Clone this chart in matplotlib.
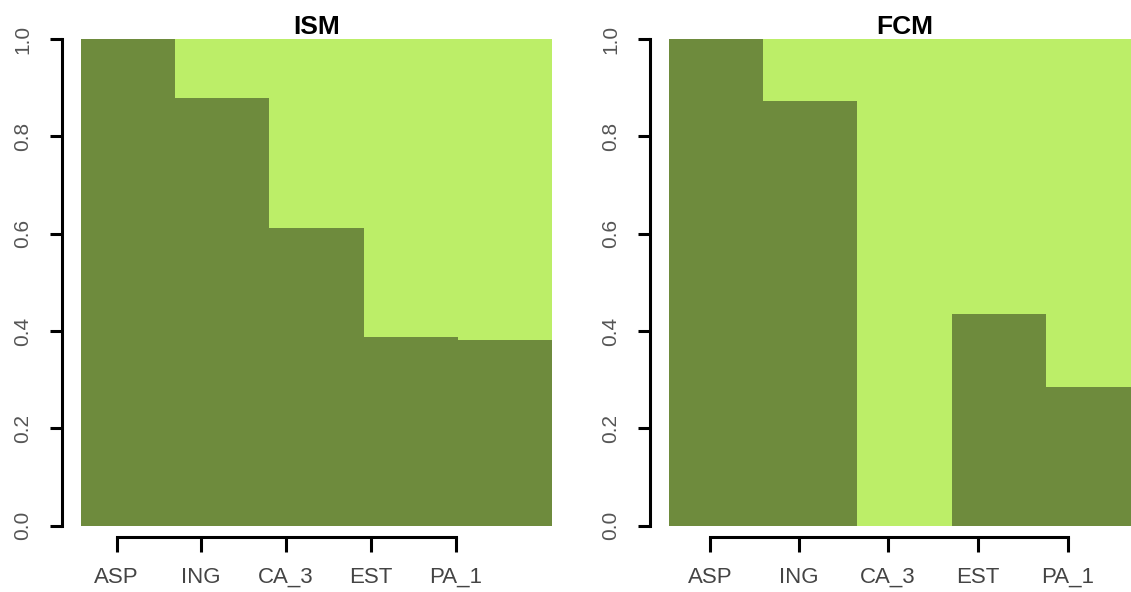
import numpy as np
import matplotlib.pyplot as plt

# share of each site assigned to the first group, rest goes to the second
sites = ['ASP', 'ING', 'CA_3', 'EST', 'PA_1']
ism = [1.0, 0.879, 0.612, 0.388, 0.382]
fcm = [1.0, 0.873, 0.0, 0.435, 0.284]

dark = '#6E8B3D'
light = '#BCEE68'

# where the category axis ticks sit (in bar units)
ism_ticks = [0.379, 1.274, 2.176, 3.079, 3.981]
fcm_ticks = [0.435, 1.380, 2.325, 3.280, 4.236]

W, H = 1131, 592
fig = plt.figure(figsize=(W / 100, H / 100), dpi=100)


def panel(x0, title, vals, ticks):
    ax = fig.add_axes([x0 / W, (H - 525.7) / H, 471 / W, 486.7 / H])
    vals = np.array(vals)
    x = np.arange(len(vals))
    ax.bar(x, vals, width=1.0, align='edge', color=dark, linewidth=0)
    ax.bar(x, 1 - vals, bottom=vals, width=1.0, align='edge', color=light, linewidth=0)
    ax.set_xlim(0, len(vals))
    ax.set_ylim(0, 1)

    for s in ['top', 'right']:
        ax.spines[s].set_visible(False)
    ax.spines['left'].set_position(('outward', 13.7))
    ax.spines['bottom'].set_position(('outward', 8.0))
    ax.spines['left'].set_bounds(0, 1)
    ax.spines['bottom'].set_bounds(ticks[0], ticks[-1])
    for s in ['left', 'bottom']:
        ax.spines[s].set_linewidth(2.2)

    ax.set_yticks(np.arange(0, 1.01, 0.2))
    ax.set_yticklabels(['%.1f' % v for v in np.arange(0, 1.01, 0.2)],
                       rotation=90, va='center', family='Liberation Sans',
                       fontsize=15, color='#555555')
    ax.set_xticks(ticks)
    ax.set_xticklabels(sites, family='Liberation Sans', fontsize=16,
                       color='#444444')
    ax.tick_params(axis='y', length=8.6, width=2.2, pad=13)
    ax.tick_params(axis='x', length=10.5, width=2.2, pad=11)
    ax.set_title(title, fontsize=19, fontweight='bold', family='Liberation Sans',
                 pad=2)
    return ax


panel(81, 'ISM', ism, ism_ticks)
panel(669, 'FCM', fcm, fcm_ticks)

fig.savefig('out.png', dpi=100)
